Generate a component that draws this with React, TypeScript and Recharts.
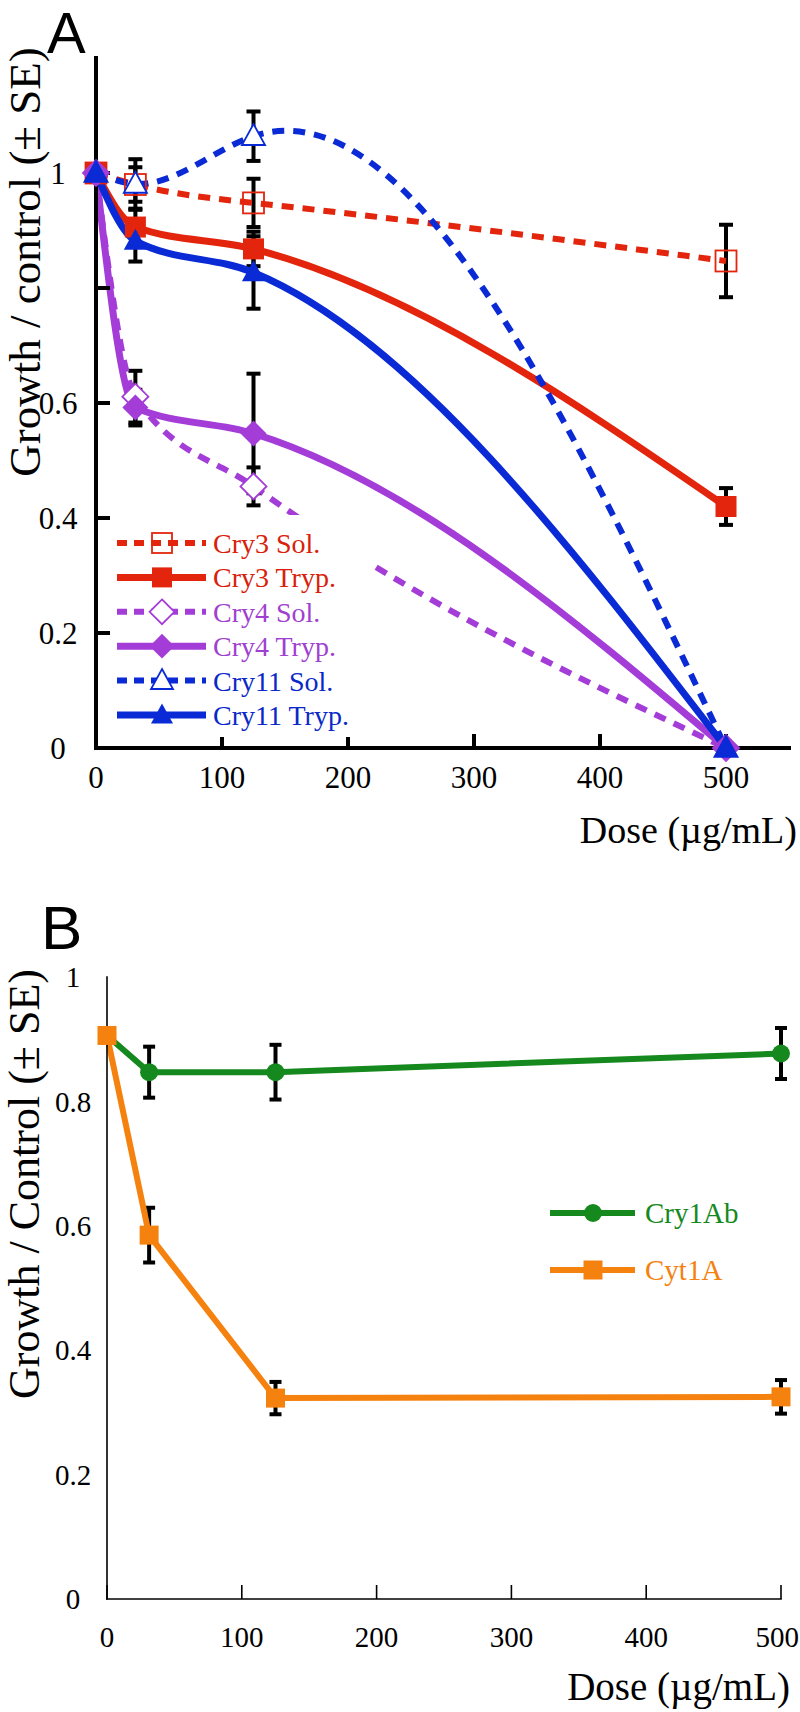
import React from 'react';
import { LineChart, Line, XAxis, YAxis, ErrorBar } from 'recharts';

const SERIF = '"Liberation Serif", "Times New Roman", Times, serif';
const SANS = '"Liberation Sans", Arial, Helvetica, sans-serif';

const RED = '#e2250c';
const PURPLE = '#a43cd8';
const BLUE = '#0a2ad6';
const GREEN = '#15891d';
const ORANGE = '#f5820f';

// ---- panel A ----
const dosesA = [0, 31.25, 125, 500];
const cry3Sol = [1.0, 0.98, 0.948, 0.847];
const cry3SolErr = [0, 0.03, 0.042, 0.063];
const cry3Tryp = [1.0, 0.906, 0.868, 0.42];
const cry3TrypErr = [0, 0.03, 0.03, 0.032];
const cry4Sol = [1.0, 0.611, 0.455, 0];
const cry4SolErr = [0, 0.045, 0.033, 0];
const cry4Tryp = [1.0, 0.592, 0.547, 0];
const cry4TrypErr = [0, 0.031, 0.104, 0];
const cry11Sol = [1.0, 0.981, 1.064, 0];
const cry11SolErr = [0, 0.043, 0.043, 0];
const cry11Tryp = [1.0, 0.882, 0.827, 0];
const cry11TrypErr = [0, 0.036, 0.063, 0];

const xTicksA = [0, 100, 200, 300, 400, 500];
const yTicksA = [0, 0.2, 0.4, 0.6, 0.8, 1];

// ---- panel B ----
const dosesB = [0, 31.25, 125, 500];
const cry1Ab = [0.906, 0.847, 0.847, 0.877];
const cry1AbErr = [0, 0.041, 0.044, 0.041];
const cyt1A = [0.906, 0.585, 0.323, 0.325];
const cyt1AErr = [0, 0.044, 0.026, 0.027];

const xTicksB = [0, 100, 200, 300, 400, 500];
const yTicksB = [0, 0.2, 0.4, 0.6, 0.8, 1];
const yMarksB = [0.2, 0.4, 0.6, 0.8, 1];

type Shape = 'square' | 'diamond' | 'triangle' | 'circle';

const seriesA = [
  { key: 'cry3Sol', name: 'Cry3 Sol.', values: cry3Sol, errors: cry3SolErr, color: RED, dashed: true, shape: 'square' as Shape, filled: false, curve: 'natural' },
  { key: 'cry3Tryp', name: 'Cry3 Tryp.', values: cry3Tryp, errors: cry3TrypErr, color: RED, dashed: false, shape: 'square' as Shape, filled: true, curve: 'monotone' },
  { key: 'cry4Sol', name: 'Cry4 Sol.', values: cry4Sol, errors: cry4SolErr, color: PURPLE, dashed: true, shape: 'diamond' as Shape, filled: false, curve: 'monotone' },
  { key: 'cry4Tryp', name: 'Cry4 Tryp.', values: cry4Tryp, errors: cry4TrypErr, color: PURPLE, dashed: false, shape: 'diamond' as Shape, filled: true, curve: 'monotone' },
  { key: 'cry11Sol', name: 'Cry11 Sol.', values: cry11Sol, errors: cry11SolErr, color: BLUE, dashed: true, shape: 'triangle' as Shape, filled: false, curve: 'natural' },
  { key: 'cry11Tryp', name: 'Cry11 Tryp.', values: cry11Tryp, errors: cry11TrypErr, color: BLUE, dashed: false, shape: 'triangle' as Shape, filled: true, curve: 'monotone' },
];

const seriesB = [
  { key: 'cry1Ab', name: 'Cry1Ab', values: cry1Ab, errors: cry1AbErr, color: GREEN, shape: 'circle' as Shape },
  { key: 'cyt1A', name: 'Cyt1A', values: cyt1A, errors: cyt1AErr, color: ORANGE, shape: 'square' as Shape },
];

const buildRows = (doses: number[], series: { key: string; values: number[]; errors: number[] }[]) =>
  doses.map((dose, i) => {
    const row: Record<string, number> = { dose };
    series.forEach((s) => {
      row[s.key] = s.values[i];
      row[`${s.key}Err`] = s.errors[i];
    });
    return row;
  });

const dataA = buildRows(dosesA, seriesA);
const dataB = buildRows(dosesB, seriesB);

// natural cubic spline with x as the independent variable
const naturalSpline = (context: any) => {
  let xs: number[] = [];
  let ys: number[] = [];
  return {
    areaStart() {},
    areaEnd() {},
    lineStart() {
      xs = [];
      ys = [];
    },
    point(x: number, y: number) {
      xs.push(+x);
      ys.push(+y);
    },
    lineEnd() {
      const n = xs.length;
      if (!n) return;
      context.moveTo(xs[0], ys[0]);
      if (n < 3) {
        if (n === 2) context.lineTo(xs[1], ys[1]);
        return;
      }
      const h: number[] = [];
      const d: number[] = [];
      for (let i = 0; i < n - 1; i++) {
        h[i] = xs[i + 1] - xs[i];
        d[i] = (ys[i + 1] - ys[i]) / h[i];
      }
      const a: number[] = [], b: number[] = [], c: number[] = [], r: number[] = [];
      for (let i = 1; i < n - 1; i++) {
        a.push(h[i - 1]);
        b.push(2 * (h[i - 1] + h[i]));
        c.push(h[i]);
        r.push(6 * (d[i] - d[i - 1]));
      }
      const m = b.length;
      for (let i = 1; i < m; i++) {
        const w = a[i] / b[i - 1];
        b[i] -= w * c[i - 1];
        r[i] -= w * r[i - 1];
      }
      const sol: number[] = new Array(m);
      sol[m - 1] = r[m - 1] / b[m - 1];
      for (let i = m - 2; i >= 0; i--) sol[i] = (r[i] - c[i] * sol[i + 1]) / b[i];
      const M = [0, ...sol, 0];
      for (let i = 0; i < n - 1; i++) {
        const s0 = d[i] - (h[i] * (2 * M[i] + M[i + 1])) / 6;
        const s1 = d[i] + (h[i] * (M[i] + 2 * M[i + 1])) / 6;
        context.bezierCurveTo(
          xs[i] + h[i] / 3, ys[i] + (s0 * h[i]) / 3,
          xs[i + 1] - h[i] / 3, ys[i + 1] - (s1 * h[i]) / 3,
          xs[i + 1], ys[i + 1],
        );
      }
    },
  };
};

const Marker = ({ cx, cy, shape, color, filled, size }: { cx: number; cy: number; shape: Shape; color: string; filled: boolean; size: number }) => {
  if (cx == null || cy == null || isNaN(cx) || isNaN(cy)) return null;
  const fill = filled ? color : shape === 'square' ? 'none' : '#fff';
  const stroke = color;
  const sw = filled ? 0 : 1.8;
  if (shape === 'square') {
    return <rect x={cx - size / 2} y={cy - size / 2} width={size} height={size} fill={fill} stroke={stroke} strokeWidth={sw} />;
  }
  if (shape === 'diamond') {
    const s = size * 0.62;
    return <polygon points={`${cx},${cy - s} ${cx + s},${cy} ${cx},${cy + s} ${cx - s},${cy}`} fill={fill} stroke={stroke} strokeWidth={sw} />;
  }
  if (shape === 'triangle') {
    const w = size * 1.1;
    return (
      <polygon
        points={`${cx},${cy - size * 0.58} ${cx + w / 2},${cy + size * 0.42} ${cx - w / 2},${cy + size * 0.42}`}
        fill={fill}
        stroke={stroke}
        strokeWidth={sw}
      />
    );
  }
  return <circle cx={cx} cy={cy} r={size / 2} fill={fill} stroke={stroke} strokeWidth={sw} />;
};

const thickAxis = { stroke: '#000', strokeWidth: 4, strokeLinecap: 'square' as const };
const thickTick = { stroke: '#000', strokeWidth: 4 };
const thinAxis = { stroke: '#000', strokeWidth: 1.6, strokeLinecap: 'square' as const };
const thinTick = { stroke: '#000', strokeWidth: 1.6 };

const tickFontA = { fontSize: 31, fill: '#000', fontFamily: SERIF };
const tickFontB = { fontSize: 29, fill: '#000', fontFamily: SERIF };

// bottom tick of panel B: the last label is kept inside the page edge
const BottomTickB = ({ x, y, payload }: any) => {
  const last = payload.value === xTicksB[xTicksB.length - 1];
  return (
    <text x={last ? x + 18 : x} y={y} dy="0.71em" textAnchor={last ? 'end' : 'middle'} {...tickFontB}>
      {payload.value}
    </text>
  );
};

const PanelA = () => (
  <LineChart width={800} height={800} data={dataA} margin={{ top: 58, right: 11, left: 6, bottom: 12 }}>
    <XAxis
      dataKey="dose"
      type="number"
      domain={[0, 550]}
      ticks={xTicksA}
      interval={0}
      height={40}
      tickSize={-14}
      tickMargin={32}
      axisLine={thickAxis}
      tickLine={thickTick}
      tick={tickFontA}
    />
    <XAxis xAxisId="top" orientation="top" dataKey="dose" type="number" domain={[0, 550]} ticks={xTicksA} height={0} tickSize={-14} tick={false} axisLine={thickAxis} tickLine={thickTick} />
    <YAxis
      type="number"
      domain={[0, 1.2]}
      ticks={yTicksA}
      interval={0}
      width={90}
      tickSize={-14}
      tickMargin={52}
      tickFormatter={(v: number) => (v === 0.8 ? '' : String(v))}
      axisLine={thickAxis}
      tickLine={thickTick}
      tick={{ ...tickFontA, textAnchor: 'middle' }}
    />
    <YAxis yAxisId="right" orientation="right" type="number" domain={[0, 1.2]} ticks={yTicksA} width={0} tickSize={-14} tick={false} axisLine={thickAxis} tickLine={thickTick} />
    {seriesA.map((s) => (
      <Line
        key={s.key}
        type={s.curve === 'natural' ? (naturalSpline as any) : 'monotone'}
        dataKey={s.key}
        stroke={s.color}
        strokeWidth={s.dashed ? 6 : 7}
        strokeDasharray={s.dashed ? '12 9' : undefined}
        activeDot={false}
        isAnimationActive={false}
        dot={(p: any) => <Marker key={`${s.key}-${p.index}`} cx={p.cx} cy={p.cy} shape={s.shape} color={s.color} filled={s.filled} size={21} />}
      >
        <ErrorBar dataKey={`${s.key}Err`} width={7} strokeWidth={4} stroke="#000" direction="y" isAnimationActive={false} />
      </Line>
    ))}
  </LineChart>
);

const PanelB = () => (
  <LineChart width={800} height={812} data={dataB} margin={{ top: 77, right: 19, left: 17, bottom: 73 }}>
    <XAxis
      dataKey="dose"
      type="number"
      domain={[0, 500]}
      ticks={xTicksB}
      interval={0}
      height={40}
      tickSize={-14}
      tickMargin={41}
      axisLine={thinAxis}
      tickLine={thinTick}
      tick={<BottomTickB />}
    />
    <XAxis xAxisId="top" orientation="top" dataKey="dose" type="number" domain={[0, 500]} ticks={xTicksB} height={0} tickSize={-14} tick={false} axisLine={thinAxis} tickLine={thinTick} />
    <YAxis yAxisId="marks" orientation="left" mirror type="number" domain={[0, 1.1]} ticks={yMarksB} width={0} tickSize={14} tick={false} axisLine={false} tickLine={thinTick} />
    <YAxis
      type="number"
      domain={[0, 1]}
      ticks={yTicksB}
      interval={0}
      width={90}
      tickSize={0}
      tickMargin={34}
      axisLine={thinAxis}
      tickLine={false}
      tick={{ ...tickFontB, textAnchor: 'middle' }}
    />
    <YAxis yAxisId="right" orientation="right" type="number" domain={[0, 1.1]} ticks={yMarksB} width={0} tickSize={-14} tick={false} axisLine={thinAxis} tickLine={thinTick} />
    {seriesB.map((s) => (
      <Line
        key={s.key}
        type="linear"
        dataKey={s.key}
        stroke={s.color}
        strokeWidth={6}
        activeDot={false}
        isAnimationActive={false}
        dot={(p: any) => <Marker key={`${s.key}-${p.index}`} cx={p.cx} cy={p.cy} shape={s.shape} color={s.color} filled size={s.shape === 'circle' ? 18 : 19} />}
      >
        <ErrorBar dataKey={`${s.key}Err`} width={6} strokeWidth={4} stroke="#000" direction="y" isAnimationActive={false} />
      </Line>
    ))}
  </LineChart>
);

const textColorA: Record<string, string> = { [RED]: '#d9200a', [PURPLE]: '#a040d0', [BLUE]: '#0a28c8' };

const Overlay = () => (
  <svg width={800} height={1712} style={{ position: 'absolute', left: 0, top: 0, pointerEvents: 'none' }}>
    {/* panel letters */}
    <text x={47} y={53} fontFamily={SANS} fontSize={58} fill="#000">A</text>
    <text x={41} y={949} fontFamily={SANS} fontSize={62} fill="#000">B</text>

    {/* axis titles */}
    <text x={40} y={262} transform="rotate(-90 40 262)" textAnchor="middle" fontFamily={SERIF} fontSize={45} fill="#000">
      Growth / control (± SE)
    </text>
    <text x={797} y={843} textAnchor="end" fontFamily={SERIF} fontSize={38} fill="#000">Dose (µg/mL)</text>
    <text x={39} y={1184} transform="rotate(-90 39 1184)" textAnchor="middle" fontFamily={SERIF} fontSize={44} fill="#000">
      Growth / Control (± SE)
    </text>
    <text x={790} y={1700} textAnchor="end" fontFamily={SERIF} fontSize={39} fill="#000">Dose (µg/mL)</text>

    {/* legend A */}
    <rect x={110} y={515} width={262} height={222} fill="#fff" />
    {seriesA.map((s, i) => {
      const y = 543 + i * 34.4;
      return (
        <g key={s.key}>
          <line x1={117} x2={206} y1={y} y2={y} stroke={s.color} strokeWidth={s.dashed ? 6 : 7} strokeDasharray={s.dashed ? '10 7' : undefined} />
          <Marker cx={162} cy={y} shape={s.shape} color={s.color} filled={s.filled} size={20} />
          <text x={213} y={y + 10} fontFamily={SERIF} fontSize={28} fill={textColorA[s.color]}>{s.name}</text>
        </g>
      );
    })}

    {/* legend B */}
    {seriesB.map((s, i) => {
      const y = 1213 + i * 57;
      return (
        <g key={s.key}>
          <line x1={550} x2={635} y1={y} y2={y} stroke={s.color} strokeWidth={6} />
          <Marker cx={593} cy={y} shape={s.shape} color={s.color} filled size={s.shape === 'circle' ? 18 : 19} />
          <text x={645} y={y + 10} fontFamily={SERIF} fontSize={29} fill={s.color}>{s.name}</text>
        </g>
      );
    })}
  </svg>
);

export default function App() {
  return (
    <div style={{ position: 'absolute', left: 0, top: 0, width: 800, height: 1712, background: '#fff', fontFamily: SERIF }}>
      <div style={{ position: 'absolute', left: 0, top: 0 }}>
        <PanelA />
      </div>
      <div style={{ position: 'absolute', left: 0, top: 900 }}>
        <PanelB />
      </div>
      <Overlay />
    </div>
  );
}
